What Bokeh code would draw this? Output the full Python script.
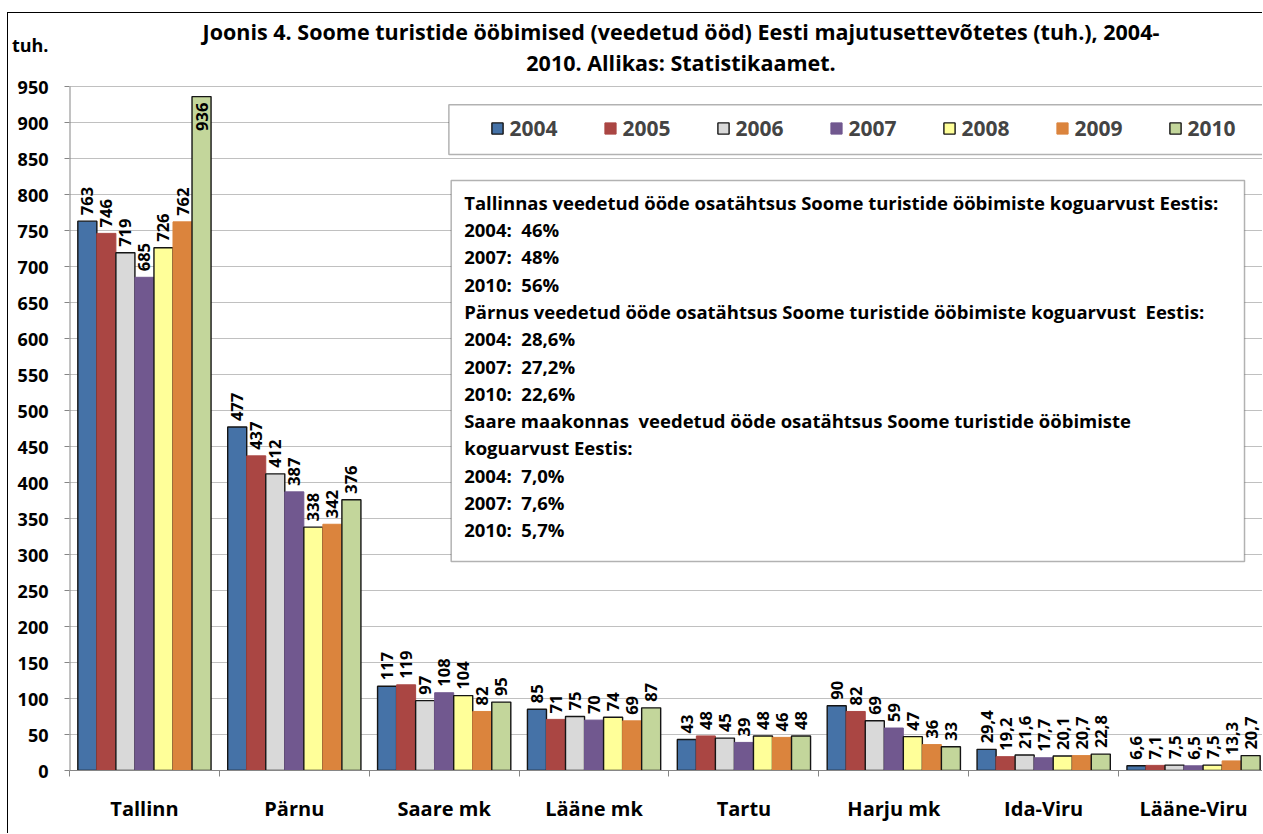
import math
from bokeh.plotting import figure
from bokeh.models import (FixedTicker, Range1d, Label, BoxAnnotation, Legend, LegendItem,
                          ColumnDataSource, InlineStyleSheet)
from bokeh.core.properties import value
from bokeh.embed import file_html
from bokeh.resources import INLINE

# ---------------- data ----------------
regions = ["Tallinn", "Pärnu", "Saare mk", "Lääne mk", "Tartu", "Harju mk", "Ida-Viru", "Lääne-Viru"]
years = ["2004", "2005", "2006", "2007", "2008", "2009", "2010"]
v2004 = [763, 477, 117, 85, 43, 90, 29.4, 6.6]
v2005 = [746, 437, 119, 71, 48, 82, 19.2, 7.1]
v2006 = [719, 412, 97, 75, 45, 69, 21.6, 7.5]
v2007 = [685, 387, 108, 70, 39, 59, 17.7, 6.5]
v2008 = [726, 338, 104, 74, 48, 47, 20.1, 7.5]
v2009 = [762, 342, 82, 69, 46, 36, 20.7, 13.3]
v2010 = [936, 376, 95, 87, 48, 33, 22.8, 20.7]
series = [v2004, v2005, v2006, v2007, v2008, v2009, v2010]
colors = ["#4572A7", "#AA4643", "#D9D9D9", "#71588F", "#FFFF99", "#DB843D", "#C3D69B"]
outlined = [True, False, True, False, True, False, True]
y_ticks = list(range(0, 951, 50))

title_lines = ["Joonis 4. Soome turistide ööbimised (veedetud ööd) Eesti majutusettevõtetes (tuh.), 2004-",
               "2010. Allikas: Statistikaamet."]
unit_label = "tuh."
note_lines = [
    "Tallinnas veedetud ööde osatähtsus Soome turistide ööbimiste koguarvust Eestis:",
    "2004:\u00a0 46%",
    "2007:\u00a0 48%",
    "2010:\u00a0 56%",
    "Pärnus veedetud ööde osatähtsus Soome turistide ööbimiste koguarvust\u00a0 Eestis:",
    "2004:\u00a0 28,6%",
    "2007:\u00a0 27,2%",
    "2010:\u00a0 22,6%",
    "Saare maakonnas\u00a0 veedetud ööde osatähtsus Soome turistide ööbimiste",
    "koguarvust Eestis:",
    "2004:\u00a0 7,0%",
    "2007:\u00a0 7,6%",
    "2010:\u00a0 5,7%",
]

FONT = "Open Sans"
OX, OY = 8, 13                 # page offset of the canvas (css margin + border)
PX_PER_UNIT = 684 / 950.0      # vertical scale
PX_PER_CAT = 150.0             # horizontal scale
FRAME_LEFT, FRAME_BOTTOM = 68, 770  # page coords of the plot origin


def fmt(v):
    if float(v).is_integer():
        return str(int(v))
    return f"{v:.1f}".replace(".", ",")


def ydata(page_y):
    return (FRAME_BOTTOM - page_y) / PX_PER_UNIT


def xdata(page_x):
    return (page_x - FRAME_LEFT) / PX_PER_CAT


# ---------------- figure ----------------
W, H = 1263 - OX, 834 - OY
n = len(regions)
x_end = (1263 - FRAME_LEFT) / PX_PER_CAT
y_end = ydata(OY)
p = figure(width=W, height=H, output_backend="svg", toolbar_location=None,
           x_range=Range1d(0, x_end), y_range=Range1d(0, y_end),
           min_border_left=FRAME_LEFT - OX, min_border_right=0, min_border_top=0,
           min_border_bottom=OY + H - FRAME_BOTTOM)
p.outline_line_color = None
p.background_fill_color = "white"
p.border_fill_color = "white"
p.stylesheets = [InlineStyleSheet(css=":host { margin-left: 7px; margin-top: 12px; "
                                      "border-left: 1px solid #000; border-top: 1px solid #000; }")]

bar_w = 0.127
renderers = []
for j, (yr, vals, col, outl) in enumerate(zip(years, series, colors, outlined)):
    xs = [i + 0.5 + (j - 3) * bar_w for i in range(n)]
    src = ColumnDataSource(dict(x=xs, top=vals))
    r = p.vbar(x="x", top="top", width=bar_w, source=src, fill_color=col,
               line_color="#151515" if outl else col, line_width=1.4 if outl else 1)
    renderers.append(r)
    out_idx = [k for k, v in enumerate(vals) if v <= 900]
    in_idx = [k for k, v in enumerate(vals) if v > 900]
    if out_idx:
        s_out = ColumnDataSource(dict(x=[xs[k] for k in out_idx], y=[vals[k] for k in out_idx],
                                      t=[fmt(vals[k]) for k in out_idx]))
        p.text(x="x", y="y", text="t", source=s_out, angle=math.pi / 2, text_align="left",
               text_baseline="middle", y_offset=-6, text_font=value(FONT), text_font_style="bold",
               text_font_size="16.5px", text_color="black")
    if in_idx:
        s_in = ColumnDataSource(dict(x=[xs[k] for k in in_idx], y=[vals[k] for k in in_idx],
                                     t=[fmt(vals[k]) for k in in_idx]))
        p.text(x="x", y="y", text="t", source=s_in, angle=math.pi / 2, text_align="right",
               text_baseline="middle", y_offset=6, text_font=value(FONT), text_font_style="bold",
               text_font_size="16.5px", text_color="black")

# y axis line (drawn only over the value range)
p.segment(x0=[0], y0=[0], x1=[0], y1=[y_ticks[-1]], line_color="#868686", line_width=2)

# y axis
unit_y = round(ydata(45))
p.yaxis.ticker = FixedTicker(ticks=y_ticks + [unit_y], minor_ticks=y_ticks)
p.yaxis.major_label_overrides = {unit_y: unit_label}
p.yaxis.axis_line_color = None
p.yaxis.major_tick_line_color = None
p.yaxis.major_tick_out = 5
p.yaxis.major_tick_in = 0
p.yaxis.minor_tick_line_color = "#868686"
p.yaxis.minor_tick_out = 5
p.yaxis.minor_tick_in = 0
p.yaxis.major_label_standoff = 16
p.yaxis.major_label_text_font = FONT
p.yaxis.major_label_text_font_style = "bold"
p.yaxis.major_label_text_font_size = "18px"
p.yaxis.major_label_text_color = "black"

# x axis
centers = [i + 0.5 for i in range(n)]
p.xaxis.ticker = FixedTicker(ticks=centers, minor_ticks=list(range(n + 1)))
p.xaxis.major_label_overrides = {c: r for c, r in zip(centers, regions)}
p.xaxis.axis_line_color = "#868686"
p.xaxis.major_tick_line_color = None
p.xaxis.major_tick_out = 0
p.xaxis.major_tick_in = 0
p.xaxis.minor_tick_line_color = "#868686"
p.xaxis.minor_tick_out = 6
p.xaxis.minor_tick_in = 0
p.xaxis.major_label_standoff = 18
p.xaxis.major_label_text_font = FONT
p.xaxis.major_label_text_font_style = "bold"
p.xaxis.major_label_text_font_size = "20px"
p.xaxis.major_label_text_color = "black"

p.xgrid.visible = False
p.ygrid.ticker = FixedTicker(ticks=y_ticks)
p.ygrid.grid_line_color = "#C0C0C0"
p.ygrid.grid_line_width = 1

# legend frame box
p.add_layout(BoxAnnotation(left=xdata(447.7), right=x_end + 0.5, top=ydata(104.3), bottom=ydata(154),
                           fill_color="white", fill_alpha=1, line_color="black", line_width=1.5))

legend = Legend(items=[LegendItem(label=yr, renderers=[r]) for yr, r in zip(years, renderers)],
                orientation="horizontal", location=(420.5, 628),
                padding=0, margin=0, spacing=43, label_standoff=6, label_width=50,
                glyph_width=14, glyph_height=14,
                label_text_font=FONT, label_text_font_style="bold", label_text_font_size="21px",
                border_line_alpha=0, background_fill_alpha=0)
p.add_layout(legend, "center")

# note box
p.add_layout(BoxAnnotation(left=xdata(450), right=xdata(1244), top=ydata(180), bottom=ydata(561),
                           fill_color="white", fill_alpha=1, line_color="black", line_width=1.5))
for k, line in enumerate(note_lines):
    p.add_layout(Label(x=xdata(463), y=ydata(201.7 + k * 27.3), text=line, text_font=FONT,
                       text_font_style="bold", text_font_size="18.5px", text_baseline="middle",
                       text_color="black"))

# title
for k, line in enumerate(title_lines):
    p.add_layout(Label(x=xdata(680), y=ydata(31 + k * 31), text=line, text_font=FONT,
                       text_font_style="bold", text_font_size="21.5px", text_baseline="middle",
                       text_align="center", text_color="black"))

open("out.html", "w").write(file_html(p, INLINE))
